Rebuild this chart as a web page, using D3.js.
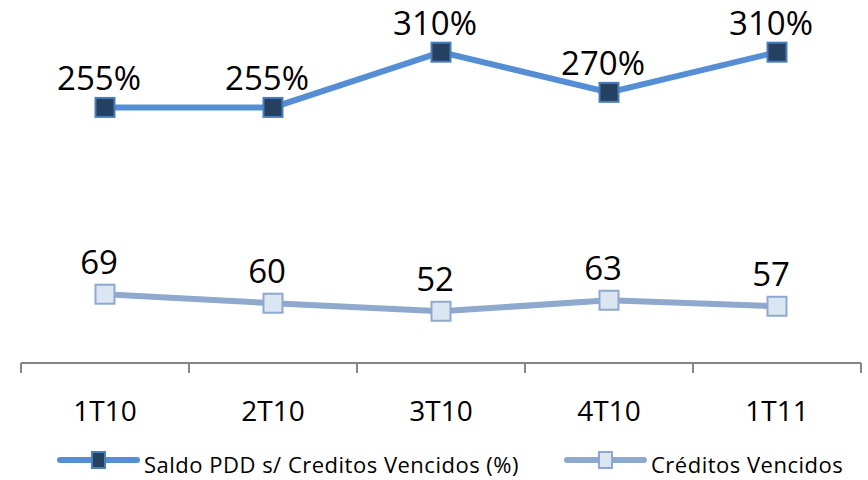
<!DOCTYPE html>
<html>
<meta charset="utf-8">
<head>
    <title>Saldo PDD vs Creditos Vencidos</title>
    <script src="https://d3js.org/d3.v7.min.js" charset="utf-8"></script>
    <style>
    body { margin: 0; background: white; }
    text { font-family: "Open Sans", sans-serif; fill: #000; }
    </style>
</head>

<body>
    <script>

    // Chart data
    var quarters = ["1T10", "2T10", "3T10", "4T10", "1T11"];
    var saldoPDD = [255, 255, 310, 270, 310];
    var creditosVencidos = [69, 60, 52, 63, 57];
    var seriesNames = ["Saldo PDD s/ Creditos Vencidos (%)", "Créditos Vencidos"];

    var width = 868;
    var height = 480;

    var svg = d3.select("body")
        .append("svg")
        .attr("width", width)
        .attr("height", height);

    // Scales
    var x = d3.scaleBand()
        .domain(quarters)
        .range([21, 861]);

    var y = d3.scaleLinear()
        .domain([0, 350])
        .range([363.5, 12]);

    // Series styles
    var series = [
        { name: seriesNames[0], values: saldoPDD, suffix: "%", line: "#558ED5",
          fill: "#254061", stroke: "#4A7EBB", dy: -17 },
        { name: seriesNames[1], values: creditosVencidos, suffix: "", line: "#8EA8CE",
          fill: "#DCE6F2", stroke: "#8EA8CE", dy: -20 }
    ];

    // X axis
    var axis = svg.append("g")
        .attr("transform", "translate(0,363)")
        .call(d3.axisBottom(x).tickSize(0).tickPadding(38));

    axis.select(".domain")
        .attr("stroke", "#868686")
        .attr("stroke-width", 2)
        .attr("d", "M21,0H861");

    axis.selectAll(".tick text")
        .style("font-size", "28px")
        .attr("fill", "#000");

    // Tick marks at category boundaries
    svg.append("g")
        .selectAll("line")
        .data(d3.range(quarters.length + 1))
        .enter()
        .append("line")
        .attr("x1", function(i) { return 21 + i * x.bandwidth(); })
        .attr("x2", function(i) { return 21 + i * x.bandwidth(); })
        .attr("y1", 363)
        .attr("y2", 373)
        .attr("stroke", "#868686")
        .attr("stroke-width", 2);

    var line = d3.line()
        .x(function(d, i) { return x(quarters[i]) + x.bandwidth() / 2; })
        .y(function(d) { return y(d); });

    series.forEach(function(s) {
        var g = svg.append("g");

        g.append("path")
            .datum(s.values)
            .attr("fill", "none")
            .attr("stroke", s.line)
            .attr("stroke-width", 6)
            .attr("d", line);

        g.selectAll("rect")
            .data(s.values)
            .enter()
            .append("rect")
            .attr("x", function(d, i) { return x(quarters[i]) + x.bandwidth() / 2 - 9.5; })
            .attr("y", function(d) { return y(d) - 9.5; })
            .attr("width", 19)
            .attr("height", 19)
            .attr("fill", s.fill)
            .attr("stroke", s.stroke)
            .attr("stroke-width", 2);

        g.selectAll("text")
            .data(s.values)
            .enter()
            .append("text")
            .attr("x", function(d, i) { return x(quarters[i]) + x.bandwidth() / 2 - 6; })
            .attr("y", function(d) { return y(d) + s.dy; })
            .attr("text-anchor", "middle")
            .style("font-size", "33px")
            .text(function(d) { return d + s.suffix; });
    });

    // Legend
    var legendX = [60, 567];
    var legend = svg.selectAll(".legend")
        .data(series)
        .enter()
        .append("g")
        .attr("class", "legend")
        .attr("transform", function(d, i) { return "translate(" + legendX[i] + ",460)"; });

    legend.append("line")
        .attr("x1", 0)
        .attr("x2", 77)
        .attr("stroke", function(d) { return d.line; })
        .attr("stroke-width", 6)
        .attr("stroke-linecap", "round");

    legend.append("rect")
        .attr("x", 32)
        .attr("y", -8)
        .attr("width", 13)
        .attr("height", 16)
        .attr("fill", function(d) { return d.fill; })
        .attr("stroke", function(d) { return d.stroke; })
        .attr("stroke-width", 2);

    legend.append("text")
        .attr("x", 84)
        .attr("y", 13)
        .style("font-size", "22px")
        .style("letter-spacing", "0.5px")
        .text(function(d) { return d.name; });
    </script>
</body>
</html>
